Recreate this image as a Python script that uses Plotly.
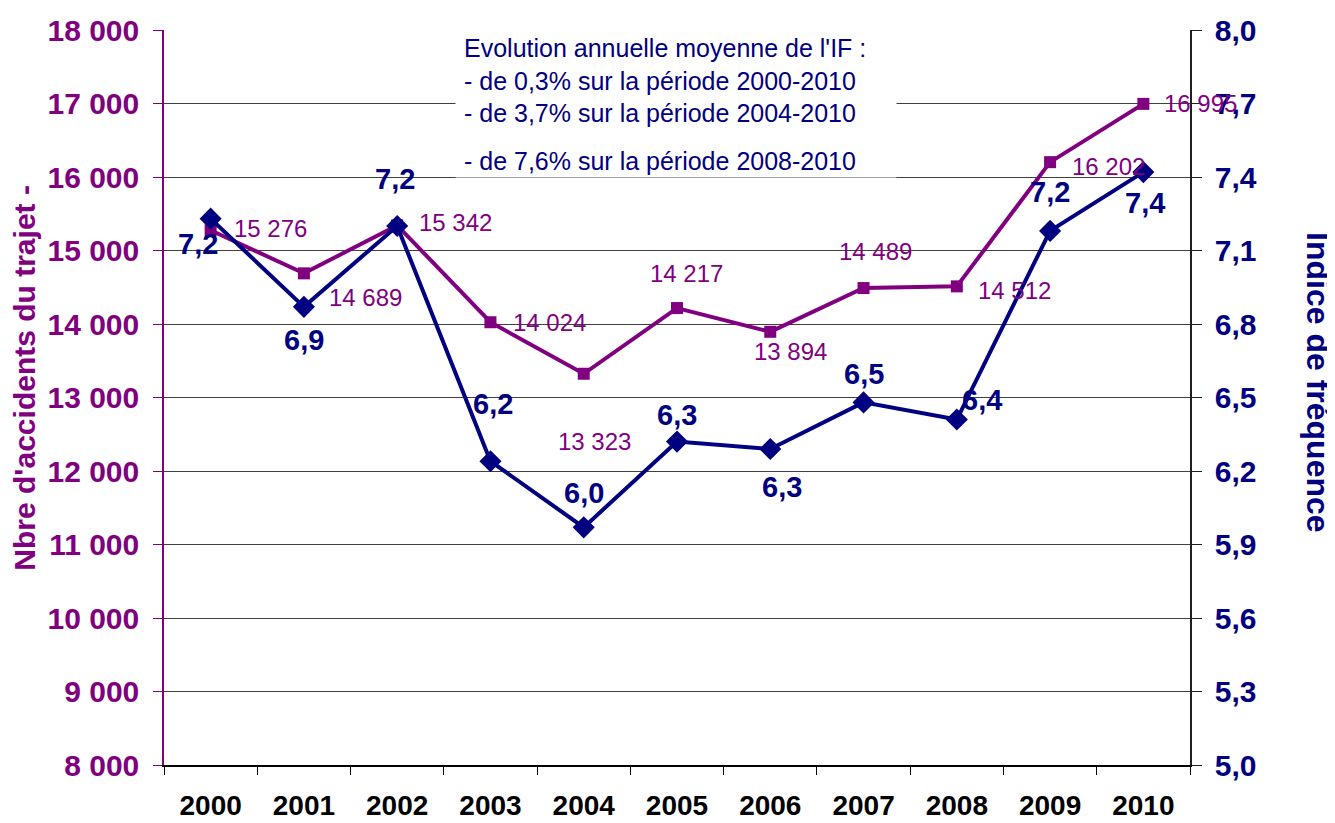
import plotly.graph_objects as go

# données
annees = ['2000', '2001', '2002', '2003', '2004', '2005', '2006', '2007', '2008', '2009', '2010']
nb_accidents = [15276, 14689, 15342, 14024, 13323, 14217, 13894, 14489, 14512, 16202, 16995]
indice_freq = [7.23, 6.87, 7.20, 6.24, 5.97, 6.32, 6.29, 6.48, 6.41, 7.18, 7.42]
texte_evol = ["Evolution annuelle moyenne de l'IF :",
              "- de 0,3% sur la période 2000-2010",
              "- de 3,7% sur la période 2004-2010"]
texte_evol2 = "- de 7,6% sur la période 2008-2010"

VIOLET = '#800080'
MARINE = '#000080'
FONT = 'Liberation Sans, Arial, sans-serif'

# décalages des étiquettes (px)
off_acc = [(60, 2), (62, -24), (58, 3), (59, 0), (11, -68), (9, 35),
           (20, -20), (12, 37), (58, -4), (58, -4), (57, 0)]
off_if = [(-13, -25), (0, -33), (-2, 47), (3, 57), (0, 34), (0, 27),
          (12, -38), (0, 28), (25, 20), (0, 39), (2, -31)]

fig = go.Figure()

fig.add_trace(go.Scatter(x=annees, y=nb_accidents, mode='lines+markers',
                         line=dict(color=VIOLET, width=4),
                         marker=dict(symbol='square', size=12, color=VIOLET),
                         yaxis='y', showlegend=False))
fig.add_trace(go.Scatter(x=annees, y=indice_freq, mode='lines+markers',
                         line=dict(color=MARINE, width=4),
                         marker=dict(symbol='diamond', size=17, color=MARINE),
                         yaxis='y2', showlegend=False))

# fond blanc de l'encadré (masque les lignes de grille)
annots = [dict(x=0.284, y=1.0, xref='paper', yref='paper', xanchor='left', yanchor='top',
               text=' ', width=440, height=146, bgcolor='white', borderpad=0,
               showarrow=False)]

for i, a in enumerate(annees):
    annots.append(dict(x=i, y=nb_accidents[i], xref='x', yref='y',
                       text=f"{nb_accidents[i]:,}".replace(',', ' '),
                       showarrow=False, xshift=off_acc[i][0], yshift=off_acc[i][1],
                       font=dict(family=FONT, size=24, color=VIOLET)))
    annots.append(dict(x=i, y=indice_freq[i], xref='x', yref='y2',
                       text=f"{indice_freq[i]:.1f}".replace('.', ','),
                       showarrow=False, xshift=off_if[i][0], yshift=off_if[i][1],
                       font=dict(family=FONT, size=29, color=MARINE, weight='bold')))

# encadré texte
annots.append(dict(x=0.29, y=1.0, xref='paper', yref='paper', xanchor='left', yanchor='top',
                   yshift=-2, text='<br>'.join(texte_evol), align='left', showarrow=False,
                   font=dict(family=FONT, size=25, color=MARINE)))
annots.append(dict(x=0.29, y=0.843, xref='paper', yref='paper', xanchor='left', yanchor='top',
                   text=texte_evol2, align='left', showarrow=False,
                   font=dict(family=FONT, size=25, color=MARINE)))

# titres des axes
annots.append(dict(x=0.0, y=0.527, xref='paper', yref='paper', xshift=-139, xanchor='center',
                   text="Nbre d'accidents du trajet -", textangle=-90, showarrow=False,
                   font=dict(family=FONT, size=30, color=VIOLET, weight='bold')))
annots.append(dict(x=1.0, y=0.521, xref='paper', yref='paper', xshift=128, xanchor='center',
                   text='Indice de fréquence', textangle=90, showarrow=False,
                   font=dict(family=FONT, size=32, color=MARINE, weight='bold')))

# la page a une marge de 8 px : la figure fait 1327x815
fig.update_layout(
    width=1327, height=815,
    margin=dict(l=156, r=145, t=22, b=58),
    paper_bgcolor='white', plot_bgcolor='white',
    separators=', ',
    annotations=annots,
    xaxis=dict(type='category', tickson='boundaries', ticks='outside', ticklen=8,
               tickcolor='black', showline=True, linecolor='black', linewidth=1.5,
               showgrid=False, automargin=False, ticklabelstandoff=15,
               tickfont=dict(family=FONT, size=28, color='black', weight='bold'),
               range=[-0.5, 10.5]),
    yaxis=dict(range=[8000, 18000], dtick=1000, tick0=8000, tickformat=',d',
               showline=True, linecolor=VIOLET, linewidth=1.5,
               ticks='outside', ticklen=9, tickcolor=VIOLET, automargin=False,
               ticklabelstandoff=8,
               showgrid=True, gridcolor='#404040', gridwidth=1,
               tickfont=dict(family=FONT, size=30, color=VIOLET, weight='bold')),
    yaxis2=dict(range=[5, 8], dtick=0.3, tick0=5, tickformat='.1f', overlaying='y', side='right',
                showline=True, linecolor='#202020', linewidth=1.5, automargin=False,
                ticks='outside', ticklen=10, tickcolor='#202020', showgrid=False,
                ticklabelstandoff=7,
                tickfont=dict(family=FONT, size=30, color=MARINE, weight='bold')),
)

fig.write_html("out.html")
